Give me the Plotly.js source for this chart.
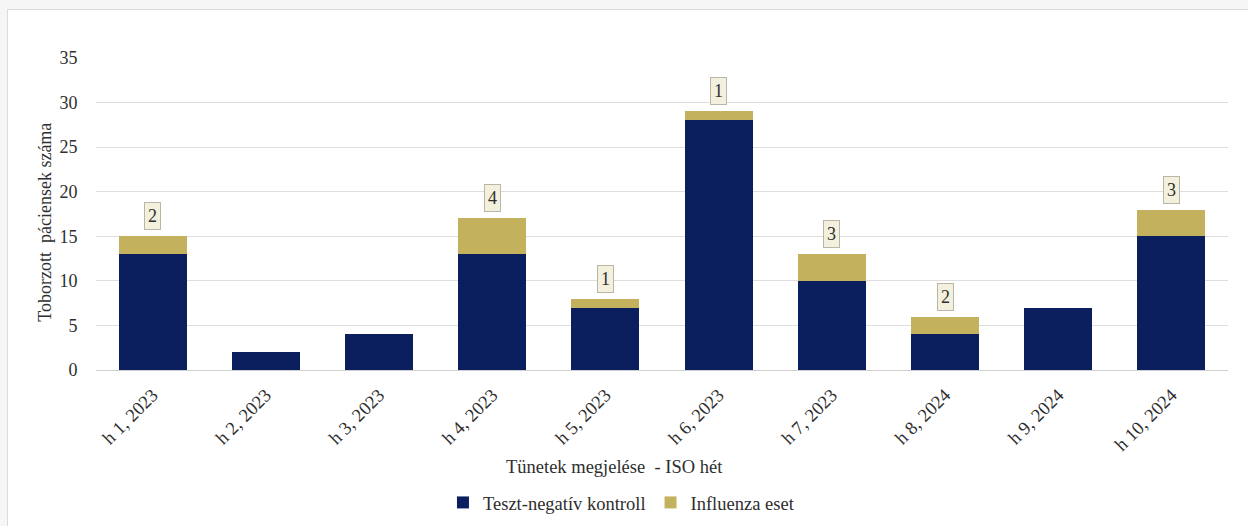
<!DOCTYPE html>
<html>
<head>
<meta charset="utf-8">
<script src="https://cdn.plot.ly/plotly-3.0.1.min.js"></script>
<style>
  html, body { margin: 0; padding: 0; background: #f6f6f6; width: 1248px; height: 526px; overflow: hidden; }
  #frame { position: absolute; left: 7px; top: 9px; width: 1241px; height: 517px; background: #ffffff;
           border-top: 1px solid #dcdcdc; border-left: 1px solid #dcdcdc; }
  #chart { position: absolute; left: 0; top: 0; width: 1248px; height: 526px; }
</style>
</head>
<body>
<div id="frame"></div>
<div id="chart"></div>
<script>
const categories = ["h 1, 2023", "h 2, 2023", "h 3, 2023", "h 4, 2023", "h 5, 2023",
                    "h 6, 2023", "h 7, 2023", "h 8, 2024", "h 9, 2024", "h 10, 2024"];
const controls = [13, 2, 4, 13, 7, 28, 10, 4, 7, 15];
const influenza = [2, 0, 0, 4, 1, 1, 3, 2, 0, 3];
const seriesNames = ["Teszt-negatív kontroll", "Influenza eset"];
const yTitle = "Toborzott  páciensek száma";
const xTitle = "Tünetek megjelése  - ISO hét";

const serif = "'Liberation Serif', 'Times New Roman', serif";
const navy = "#0b1f5e";
const gold = "#c4b15e";
const txt = "#2e2e2e";

const traces = [
  { type: "bar", name: seriesNames[0], x: categories, y: controls,
    marker: { color: navy }, hoverinfo: "skip" },
  { type: "bar", name: seriesNames[1], x: categories, y: influenza,
    marker: { color: gold }, hoverinfo: "skip" }
];

const annotations = [];
categories.forEach((c, i) => {
  if (influenza[i] > 0) {
    annotations.push({
      x: c, y: controls[i] + influenza[i], xref: "x", yref: "y",
      text: String(influenza[i]), showarrow: false,
      yanchor: "bottom", yshift: 6,
      font: { family: serif, size: 18, color: txt },
      bgcolor: "#f3f0dd", bordercolor: "#b9b6a6", borderwidth: 1, borderpad: 3
    });
  }
});
annotations.push({
  xref: "paper", yref: "paper", x: 0.458, y: -0.311, xanchor: "center", yanchor: "middle",
  showarrow: false, text: xTitle, font: { family: serif, size: 18.5, color: txt }
});
annotations.push({
  xref: "paper", yref: "paper", x: -0.045, y: 0.472, xanchor: "center", yanchor: "middle",
  showarrow: false, textangle: -90,
  text: yTitle, font: { family: serif, size: 18, color: txt }
});

const layout = {
  width: 1248, height: 526,
  margin: { l: 96, r: 20, t: 58, b: 156, pad: 0, autoexpand: false },
  paper_bgcolor: "rgba(0,0,0,0)", plot_bgcolor: "rgba(0,0,0,0)",
  barmode: "stack", bargap: 0.4,
  showlegend: true,
  legend: { orientation: "h", x: 0.3065, xanchor: "left", y: -0.426, yanchor: "middle",
            font: { family: serif, size: 18.5, color: txt }, traceorder: "normal",
            itemgap: 0, itemwidth: 30 },
  xaxis: { type: "category", tickangle: -45, tickfont: { family: serif, size: 18.5, color: txt },
           showgrid: false, showline: true, linecolor: "#cfcfcf", linewidth: 1,
           ticks: "outside", ticklen: 6, tickcolor: "rgba(0,0,0,0)", automargin: false, fixedrange: true },
  yaxis: { range: [0, 35], dtick: 5, tick0: 0, showgrid: true, gridcolor: "#dedede", gridwidth: 1,
           zeroline: false, showline: false, automargin: false,
           ticks: "outside", ticklen: 14, tickcolor: "rgba(0,0,0,0)",
           tickfont: { family: serif, size: 18, color: txt }, fixedrange: true },
  annotations: annotations,
  font: { family: serif }
};

Plotly.newPlot("chart", traces, layout, { displayModeBar: false, staticPlot: true });
</script>
</body>
</html>
